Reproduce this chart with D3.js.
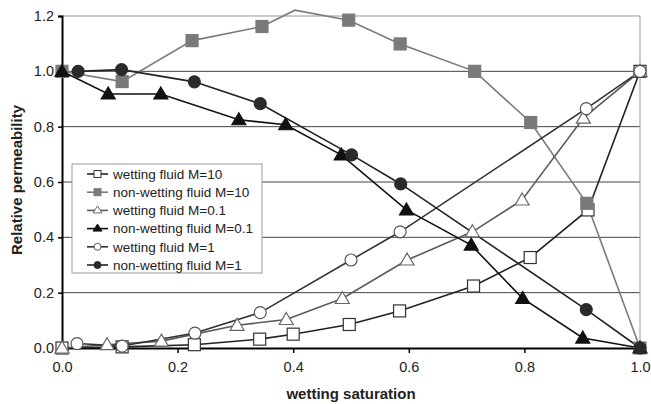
<!DOCTYPE html>
<html>
<head>
<meta charset="utf-8">
<script src="https://cdn.jsdelivr.net/npm/d3@7"></script>
<style>
  body { margin: 0; background: #fff; }
  svg text { font-family: "Liberation Sans", Arial, sans-serif; }
</style>
</head>
<body>
<script>
const width = 651,
      height = 404;

// series values
const wetM10X     = [0, 0.104, 0.229, 0.342, 0.400, 0.497, 0.584, 0.712, 0.810, 0.910, 1.0];
const wetM10Y     = [0, 0.004, 0.012, 0.032, 0.050, 0.085, 0.134, 0.224, 0.327, 0.499, 1.0];
const nonwetM10X  = [0, 0.104, 0.225, 0.346, 0.403, 0.496, 0.585, 0.714, 0.811, 0.908, 1.0];
const nonwetM10Y  = [1.0, 0.963, 1.111, 1.162, 1.221, 1.185, 1.099, 1.0, 0.815, 0.523, 0];
const wetM01X     = [0, 0.078, 0.172, 0.303, 0.388, 0.485, 0.597, 0.710, 0.796, 0.902, 1.0];
const wetM01Y     = [0, 0.012, 0.025, 0.082, 0.103, 0.179, 0.318, 0.420, 0.535, 0.831, 1.0];
const nonwetM01X  = [0, 0.080, 0.171, 0.306, 0.387, 0.483, 0.596, 0.708, 0.797, 0.901, 1.0];
const nonwetM01Y  = [1.0, 0.918, 0.918, 0.825, 0.807, 0.698, 0.499, 0.372, 0.179, 0.036, 0];
const wetM1X      = [0.026, 0.104, 0.230, 0.343, 0.500, 0.585, 0.907, 1.0];
const wetM1Y      = [0.016, 0.007, 0.054, 0.128, 0.318, 0.420, 0.865, 1.0];
const nonwetM1X   = [0.028, 0.103, 0.229, 0.343, 0.501, 0.586, 0.907, 1.0];
const nonwetM1Y   = [1.0, 1.006, 0.962, 0.883, 0.698, 0.593, 0.139, 0];

const seriesNames = ["wetting fluid M=10", "non-wetting fluid M=10", "wetting fluid M=0.1",
                     "non-wetting fluid M=0.1", "wetting fluid M=1", "non-wetting fluid M=1"];
const xTicks = [0, 0.2, 0.4, 0.6, 0.8, 1.0];
const yTicks = [0, 0.2, 0.4, 0.6, 0.8, 1.0, 1.2];

function zip(xs, ys) { return xs.map(function(x, i) { return {x: x, y: ys[i]}; }); }

const series = [
  {name: seriesNames[0], pts: zip(wetM10X, wetM10Y),       shape: "square",   fill: "#fff",  stroke: "#333", line: "#222"},
  {name: seriesNames[1], pts: zip(nonwetM10X, nonwetM10Y), shape: "square",   fill: "#7a7a7a", stroke: "#7a7a7a", line: "#7a7a7a"},
  {name: seriesNames[2], pts: zip(wetM01X, wetM01Y),       shape: "triangle", fill: "#fff",  stroke: "#666", line: "#5a5a5a"},
  {name: seriesNames[3], pts: zip(nonwetM01X, nonwetM01Y), shape: "triangle", fill: "#111",  stroke: "#111", line: "#111"},
  {name: seriesNames[4], pts: zip(wetM1X, wetM1Y),         shape: "circle",   fill: "#fff",  stroke: "#555", line: "#333"},
  {name: seriesNames[5], pts: zip(nonwetM1X, nonwetM1Y),   shape: "circle",   fill: "#2a2a2a", stroke: "#2a2a2a", line: "#222"}
];

let svg = d3.select("body")
    .append("svg")
    .attr("width", width)
    .attr("height", height);

let x = d3.scaleLinear().domain([0, 1]).range([62, 640]);
let y = d3.scaleLinear().domain([0, 1.2]).range([348, 16]);

// gridlines
svg.append("g")
    .selectAll("line")
    .data(yTicks.slice(1))
    .enter().append("line")
    .attr("x1", x(0)).attr("x2", x(1))
    .attr("y1", function(d) { return y(d); })
    .attr("y2", function(d) { return y(d); })
    .attr("stroke", function(d) { return d === 1.2 ? "#999" : "#444"; })
    .attr("stroke-width", 1);

// right border
svg.append("line")
    .attr("x1", x(1)).attr("x2", x(1))
    .attr("y1", y(1.2)).attr("y2", y(0))
    .attr("stroke", "#999");

let xAxis = d3.axisBottom(x).tickValues(xTicks).tickFormat(d3.format(".1f")).tickSize(5).tickPadding(9);
let yAxis = d3.axisLeft(y).tickValues(yTicks).tickFormat(d3.format(".1f")).tickSize(4).tickPadding(4);

let gx = svg.append("g")
    .attr("transform", "translate(0," + y(0) + ")")
    .call(xAxis);
let gy = svg.append("g")
    .attr("transform", "translate(" + x(0) + ",0)")
    .call(yAxis);

[gx, gy].forEach(function(g) {
  g.select(".domain").attr("stroke", "#000").attr("stroke-width", 2);
  g.selectAll(".tick line").attr("stroke", "#000").attr("stroke-width", 1.5);
  g.selectAll(".tick text").attr("fill", "#222").style("font-size", "14.5px");
});

const line = d3.line()
    .x(function(d) { return x(d.x); })
    .y(function(d) { return y(d.y); });

function drawMarker(g, shape, size) {
  let h = size / 2;
  if (shape === "square") {
    return g.append("rect").attr("x", -h).attr("y", -h).attr("width", size).attr("height", size);
  } else if (shape === "circle") {
    return g.append("circle").attr("r", h);
  }
  return g.append("path").attr("d", "M0," + (-h - 1) + "L" + (h + 1) + "," + (h - 1) + "L" + (-h - 1) + "," + (h - 1) + "Z");
}

series.forEach(function(s) {
  svg.append("path")
      .attr("d", line(s.pts))
      .attr("fill", "none")
      .attr("stroke", s.line)
      .attr("stroke-width", 1.6);
});

series.forEach(function(s) {
  s.pts.filter(function(d) { return d.y <= 1.2; }).forEach(function(d) {
    let g = svg.append("g").attr("transform", "translate(" + x(d.x) + "," + y(d.y) + ")");
    drawMarker(g, s.shape, 12)
        .attr("fill", s.fill)
        .attr("stroke", s.stroke)
        .attr("stroke-width", 1.2);
  });
});

// legend
let legend = svg.append("g").attr("transform", "translate(72,164)");
legend.append("rect")
    .attr("width", 190).attr("height", 109)
    .attr("fill", "#fff").attr("stroke", "#999");

series.forEach(function(s, i) {
  let row = legend.append("g").attr("transform", "translate(0," + (10 + i * 18.2) + ")");
  row.append("line").attr("x1", 15).attr("x2", 36).attr("stroke", s.line).attr("stroke-width", 1.6);
  let g = row.append("g").attr("transform", "translate(25.5,0)");
  drawMarker(g, s.shape, 7)
      .attr("fill", s.fill)
      .attr("stroke", s.stroke)
      .attr("stroke-width", 1);
  row.append("text")
      .attr("x", 41)
      .attr("dy", "0.36em")
      .style("font-size", "13.5px")
      .attr("fill", "#222")
      .text(s.name);
});

// axis titles
svg.append("text")
    .attr("text-anchor", "middle")
    .attr("transform", "translate(351,399)")
    .style("font-size", "15px")
    .style("font-weight", "bold")
    .attr("fill", "#222")
    .text("wetting saturation");

svg.append("text")
    .attr("text-anchor", "middle")
    .attr("transform", "translate(22,180)rotate(-90)")
    .style("font-size", "15px")
    .style("font-weight", "bold")
    .attr("fill", "#222")
    .text("Relative permeability");
</script>
</body>
</html>
